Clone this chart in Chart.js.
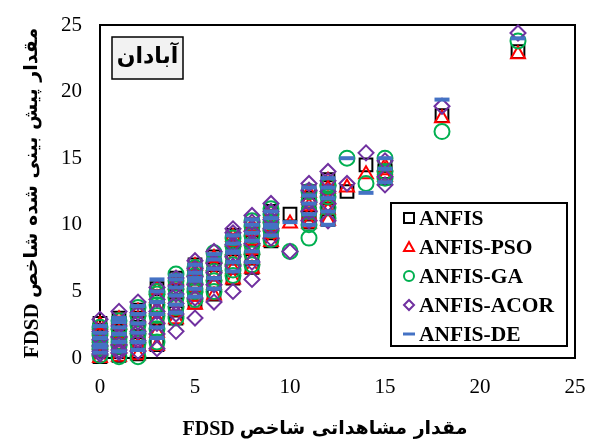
<!DOCTYPE html>
<html lang="fa">
<head>
    <meta charset="UTF-8">
    <title>FDSD Abadan</title>
    <style>
        body {
            margin: 0;
            padding: 0;
            background: #fff;
            overflow: hidden;
        }
    </style>
</head>
<body>
    <canvas id="chart" width="590" height="445"></canvas>
    <script src="https://cdn.jsdelivr.net/npm/chart.js@4.4.0/dist/chart.umd.min.js"></script>
    <script>
        // observed FDSD (x) and predicted values of each model (y), one row per x column
        const observed = [
            0, 0, 0, 0, 0, 0,
            1, 1, 1, 1, 1, 1,
            2, 2, 2, 2, 2, 2,
            3, 3, 3, 3, 3, 3,
            4, 4, 4, 4, 4, 4,
            5, 5, 5, 5, 5, 5,
            6, 6, 6, 6, 6,
            7, 7, 7, 7, 7, 7,
            8, 8, 8, 8, 8, 8,
            9, 9, 9, 9, 9,
            10,
            11, 11, 11, 11, 11,
            12, 12, 12, 12, 12,
            13, 14, 15, 15, 15, 18, 22
        ];
        const anfis = [
            0.1, 0.6, 1.1, 1.6, 2.1, 2.6,
            0.2, 0.8, 1.4, 2.0, 2.6, 3.0,
            0.3, 1.0, 1.6, 2.3, 3.0, 3.6,
            1.0, 2.0, 3.0, 3.8, 4.6, 5.2,
            3.0, 3.6, 4.3, 5.0, 5.6, 6.0,
            4.2, 4.8, 5.4, 6.0, 6.6, 7.0,
            4.8, 5.6, 6.3, 7.0, 7.6,
            6.0, 6.8, 7.5, 8.2, 8.8, 9.2,
            6.8, 7.5, 8.2, 8.9, 9.6, 10.0,
            8.8, 9.4, 10.0, 10.6, 11.0,
            10.8,
            10.2, 10.8, 11.5, 12.0, 12.5,
            10.4, 11.2, 12.0, 12.8, 13.4,
            12.5, 14.5, 14.5, 13.5, 14.0, 18.2, 23.0
        ];
        const anfisPso = [
            0.0, 0.5, 1.0, 1.5, 2.0, 2.5,
            0.1, 0.7, 1.3, 1.9, 2.5, 2.9,
            0.2, 0.9, 1.5, 2.2, 2.9, 3.5,
            0.9, 1.9, 2.9, 3.7, 4.5, 5.1,
            2.9, 3.5, 4.2, 4.9, 5.5, 5.9,
            4.0, 4.6, 5.3, 5.9, 6.5, 6.9,
            4.7, 5.5, 6.2, 6.9, 7.5,
            5.9, 6.7, 7.4, 8.1, 8.7, 9.1,
            6.7, 7.4, 8.1, 8.8, 9.5, 9.9,
            8.7, 9.3, 9.9, 10.5, 10.9,
            10.1,
            10.1, 10.7, 11.4, 11.9, 12.4,
            10.3, 11.1, 11.9, 12.7, 13.3,
            12.8, 13.8, 14.4, 13.6, 14.1, 18.0, 22.8
        ];
        const anfisGa = [
            0.2, 0.7, 1.3, 1.8, 2.3, 0.9,
            0.1, 0.9, 1.5, 2.2, 2.8, 1.2,
            0.1, 1.1, 1.8, 2.5, 3.2, 3.8,
            1.2, 2.2, 3.2, 4.0, 4.8, 5.0,
            3.0, 3.8, 4.5, 5.2, 5.8, 6.3,
            4.4, 5.0, 5.6, 6.2, 6.8, 5.2,
            5.0, 5.8, 6.5, 7.2, 7.9,
            6.2, 7.0, 7.7, 8.4, 9.0, 6.6,
            7.0, 7.8, 8.5, 9.2, 9.9, 10.3,
            8.9, 9.6, 10.2, 10.8, 11.2,
            8.0,
            9.0, 10.0, 11.0, 11.8, 12.5,
            10.5, 11.3, 12.1, 12.9, 13.0,
            15.0, 13.1, 15.0, 13.5, 14.0, 17.0, 23.8
        ];
        const anfisAcor = [
            0.3, 0.9, 1.4, 2.0, 2.9, 0.5,
            0.4, 1.0, 1.6, 2.4, 3.5, 0.6,
            0.5, 1.3, 2.0, 2.7, 3.4, 4.2,
            0.7, 1.8, 2.6, 3.5, 4.4, 5.3,
            2.0, 3.3, 4.1, 4.8, 5.4, 6.0,
            3.0, 4.5, 5.5, 6.1, 6.7, 7.3,
            4.2, 5.5, 6.4, 7.1, 8.0,
            5.0, 6.9, 7.6, 8.5, 9.4, 9.7,
            5.9, 7.2, 8.6, 9.5, 10.2, 10.7,
            9.0, 9.7, 10.4, 11.0, 11.6,
            8.0,
            10.3, 11.0, 11.7, 12.6, 13.1,
            10.3, 11.6, 12.5, 13.3, 14.0,
            13.1, 15.4, 14.8, 13.0, 13.6, 18.9, 24.4
        ];
        const anfisDe = [
            0.4, 1.0, 1.5, 1.9, 2.4, 0.8,
            0.5, 1.2, 1.8, 2.3, 2.7, 3.0,
            0.6, 1.2, 1.9, 2.6, 3.3, 3.9,
            1.5, 2.3, 3.3, 4.2, 5.0, 5.9,
            3.4, 4.0, 4.7, 5.3, 5.9, 6.2,
            4.6, 5.2, 5.8, 6.4, 7.0, 6.0,
            5.2, 6.0, 6.7, 7.4, 7.8,
            6.5, 7.2, 7.9, 8.6, 9.2, 8.0,
            7.2, 8.0, 8.8, 9.4, 10.0, 10.4,
            9.2, 9.8, 10.5, 11.0, 10.0,
            10.2,
            10.0, 10.8, 11.6, 12.2, 12.8,
            10.0, 11.0, 12.0, 12.8, 13.5,
            15.0, 12.4, 15.0, 13.2, 14.2, 19.4, 24.0
        ];
        const axisTicks = [0, 5, 10, 15, 20, 25];

        const xTitleFa = 'مقدار مشاهداتی شاخص';
        const yTitleFa = 'مقدار پیش بینی شده شاخص';
        const titleCode = 'FDSD';
        const stationName = 'آبادان';

        const series = [
            { label: 'ANFIS', values: anfis, color: '#000000', style: 'rect', r: 9, bw: 2 },
            { label: 'ANFIS-PSO', values: anfisPso, color: '#ff0000', style: 'triangle', r: 8, bw: 2 },
            { label: 'ANFIS-GA', values: anfisGa, color: '#00b050', style: 'circle', r: 7.5, bw: 2 },
            { label: 'ANFIS-ACOR', values: anfisAcor, color: '#7030a0', style: 'rectRot', r: 7.5, bw: 2 },
            { label: 'ANFIS-DE', values: anfisDe, color: '#4472c4', style: 'line', r: 7.5, bw: 4 }
        ];

        const serif = "'Liberation Serif', 'Times New Roman', serif";
        const persian = "'DejaVu Sans', sans-serif";

        // legend marker, same shapes as the chart points
        function marker(ctx, style, x, y, r) {
            ctx.beginPath();
            if (style === 'rect') {
                ctx.rect(x - r, y - r, 2 * r, 2 * r);
            } else if (style === 'triangle') {
                ctx.moveTo(x, y - r);
                ctx.lineTo(x + r, y + r * 0.8);
                ctx.lineTo(x - r, y + r * 0.8);
                ctx.closePath();
            } else if (style === 'circle') {
                ctx.arc(x, y, r, 0, Math.PI * 2);
            } else if (style === 'rectRot') {
                ctx.moveTo(x - r, y);
                ctx.lineTo(x, y - r);
                ctx.lineTo(x + r, y);
                ctx.lineTo(x, y + r);
                ctx.closePath();
            } else {
                ctx.moveTo(x - r, y);
                ctx.lineTo(x + r, y);
            }
            ctx.stroke();
        }

        // "FDSD" (serif) on the left, Persian words on the right, centred on cx
        function mixedTitle(ctx, fa, faSize, codeSize, cx, cy) {
            ctx.textBaseline = 'middle';
            ctx.textAlign = 'left';
            ctx.font = 'bold ' + codeSize + 'px ' + serif;
            const wCode = ctx.measureText(titleCode + ' ').width;
            ctx.font = 'bold ' + faSize + 'px ' + persian;
            const wFa = ctx.measureText(fa).width;
            const x0 = cx - (wCode + wFa) / 2;
            ctx.font = 'bold ' + codeSize + 'px ' + serif;
            ctx.fillText(titleCode, x0, cy + 1);
            ctx.font = 'bold ' + faSize + 'px ' + persian;
            ctx.fillText(fa, x0 + wCode, cy);
        }

        const decorations = {
            id: 'decorations',
            beforeDatasetsDraw(chart) {
                const { ctx, chartArea: a } = chart;
                ctx.save();
                ctx.strokeStyle = '#000';
                ctx.lineWidth = 2;
                ctx.strokeRect(a.left, a.top, a.right - a.left, a.bottom - a.top);
                ctx.restore();
            },
            afterDraw(chart) {
                const ctx = chart.ctx;
                ctx.save();
                ctx.fillStyle = '#000';

                // axis titles
                mixedTitle(ctx, xTitleFa, 19, 20, 325, 429);
                ctx.save();
                ctx.translate(32, 193);
                ctx.rotate(-Math.PI / 2);
                mixedTitle(ctx, yTitleFa, 19, 21, 0, 0);
                ctx.restore();

                // station label box
                ctx.fillStyle = '#f2f2f2';
                ctx.fillRect(112, 37, 71, 42);
                ctx.strokeStyle = '#000';
                ctx.lineWidth = 1.5;
                ctx.strokeRect(112, 37, 71, 42);
                ctx.fillStyle = '#000';
                ctx.textAlign = 'center';
                ctx.textBaseline = 'middle';
                ctx.font = 'bold 22px ' + persian;
                ctx.fillText(stationName, 147.5, 57);

                // legend
                ctx.fillStyle = '#fff';
                ctx.fillRect(391, 203, 176, 143);
                ctx.strokeStyle = '#000';
                ctx.lineWidth = 2;
                ctx.strokeRect(391, 203, 176, 143);
                ctx.textAlign = 'left';
                ctx.font = 'bold 21.5px ' + serif;
                series.forEach((s, i) => {
                    const y = 218 + i * 29;
                    ctx.strokeStyle = s.color;
                    ctx.lineWidth = s.style === 'line' ? 3 : 2;
                    marker(ctx, s.style, 409, y, s.style === 'line' ? 6 : 5);
                    ctx.fillStyle = '#000';
                    ctx.fillText(s.label, 419, y + 1);
                });
                ctx.restore();
            }
        };

        const tickFont = { family: serif, size: 21 };

        new Chart(document.getElementById('chart'), {
            type: 'scatter',
            data: {
                datasets: series.map((s, i) => ({
                    label: s.label,
                    data: observed.map((x, j) => ({ x: x, y: s.values[j] })),
                    pointStyle: s.style,
                    pointRadius: s.r,
                    pointBorderWidth: s.bw,
                    borderColor: s.color,
                    backgroundColor: 'rgba(0,0,0,0)',
                    order: series.length - 1 - i,
                    clip: false
                }))
            },
            options: {
                responsive: false,
                animation: false,
                devicePixelRatio: 1,
                layout: { padding: { top: 25, right: 15 } },
                plugins: {
                    legend: { display: false },
                    tooltip: { enabled: false }
                },
                scales: {
                    x: {
                        type: 'linear',
                        min: 0,
                        max: 25,
                        afterBuildTicks: (s) => { s.ticks = axisTicks.map(v => ({ value: v })); },
                        ticks: { font: tickFont, color: '#000', padding: 17 },
                        grid: { display: false, drawTicks: false },
                        border: { display: false },
                        afterFit: (s) => { s.height = 87; s.paddingLeft = 0; s.paddingRight = 0; }
                    },
                    y: {
                        type: 'linear',
                        min: 0,
                        max: 25,
                        afterBuildTicks: (s) => { s.ticks = axisTicks.map(v => ({ value: v })); },
                        ticks: { font: tickFont, color: '#000', padding: 18 },
                        grid: { display: false, drawTicks: false },
                        border: { display: false },
                        afterFit: (s) => { s.width = 100; s.paddingTop = 0; s.paddingBottom = 0; }
                    }
                }
            },
            plugins: [decorations]
        });
    </script>
</body>
</html>
